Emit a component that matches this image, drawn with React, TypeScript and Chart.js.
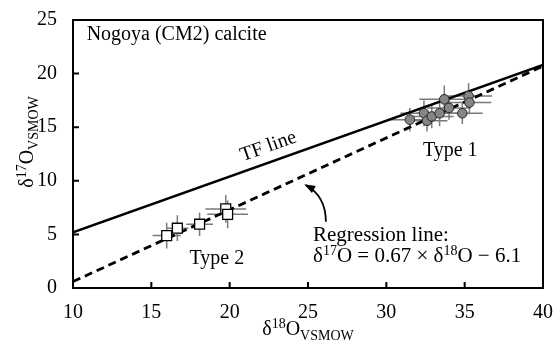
import React, { useEffect, useRef } from 'react';
import { Chart, registerables } from 'chart.js';

Chart.register(...registerables);

// ---------- data ----------
const xTickValues = [10, 15, 20, 25, 30, 35, 40];
const yTickValues = [0, 5, 10, 15, 20, 25];

// Type 1 (grey circles)
const type1X = [31.5, 32.4, 32.6, 32.9, 33.4, 33.7, 34.0, 34.85, 35.25, 35.3];
const type1Y = [15.7, 16.3, 15.6, 16.0, 16.3, 17.6, 16.8, 16.3, 17.9, 17.3];
const type1XErr = [1.4, 1.5, 1.3, 1.4, 1.5, 1.6, 1.4, 1.3, 1.5, 1.4];
const type1YErr = [1.1, 1.2, 1.0, 1.1, 1.2, 1.3, 1.1, 1.0, 1.2, 1.1];

// Type 2 (open squares)
const type2X = [15.98, 16.66, 18.08, 19.75, 19.87];
const type2Y = [4.89, 5.58, 5.95, 7.38, 6.87];
const type2XErr = [0.9, 0.7, 0.85, 1.3, 1.3];
const type2YErr = [1.2, 1.2, 1.1, 1.3, 1.3];

// Lines
const tfLineX = [10, 40];
const tfLineY = [5.2, 20.8];
const regLineX = [10, 40];
const regLineY = [0.6, 20.7];

// ---------- styling / layout ----------
const FONT = '"Liberation Serif", "Times New Roman", Times, serif';
const FS = 20;

type Seg = { t: string; sup?: boolean; sub?: boolean };

function drawRich(ctx: CanvasRenderingContext2D, segs: Seg[], x: number, y: number, align: 'left' | 'center', size: number) {
  const small = Math.round(size * 0.68);
  const widths: number[] = [];
  let total = 0;
  for (const s of segs) {
    ctx.font = `${s.sup || s.sub ? small : size}px ${FONT}`;
    const w = ctx.measureText(s.t).width;
    widths.push(w);
    total += w;
  }
  let cx = align === 'center' ? x - total / 2 : x;
  ctx.textAlign = 'left';
  ctx.textBaseline = 'alphabetic';
  segs.forEach((s, i) => {
    ctx.font = `${s.sup || s.sub ? small : size}px ${FONT}`;
    const dy = s.sup ? -size * 0.36 : s.sub ? size * 0.24 : 0;
    ctx.fillText(s.t, cx, y + dy);
    cx += widths[i];
  });
}

const overlayPlugin = {
  id: 'overlay',
  beforeDatasetsDraw(chart: any) {
    const { ctx, scales } = chart;
    const xs = scales.x, ys = scales.y;
    ctx.save();
    ctx.strokeStyle = '#7a7a7a';
    ctx.lineWidth = 1.5;
    const bars = (X: number[], Y: number[], XE: number[], YE: number[]) => {
      for (let i = 0; i < X.length; i++) {
        const px = xs.getPixelForValue(X[i]);
        const py = ys.getPixelForValue(Y[i]);
        ctx.beginPath();
        ctx.moveTo(xs.getPixelForValue(X[i] - XE[i]), py);
        ctx.lineTo(xs.getPixelForValue(X[i] + XE[i]), py);
        ctx.moveTo(px, ys.getPixelForValue(Y[i] - YE[i]));
        ctx.lineTo(px, ys.getPixelForValue(Y[i] + YE[i]));
        ctx.stroke();
      }
    };
    bars(type1X, type1Y, type1XErr, type1YErr);
    bars(type2X, type2Y, type2XErr, type2YErr);
    ctx.restore();
  },
  afterDraw(chart: any) {
    const { ctx, scales, chartArea } = chart;
    const xs = scales.x, ys = scales.y;
    const X = (v: number) => xs.getPixelForValue(v);
    const Y = (v: number) => ys.getPixelForValue(v);
    ctx.save();
    // frame
    ctx.strokeStyle = '#000';
    ctx.lineWidth = 2;
    ctx.strokeRect(chartArea.left, chartArea.top, chartArea.right - chartArea.left, chartArea.bottom - chartArea.top);
    // inward ticks
    ctx.beginPath();
    for (const v of xTickValues) {
      ctx.moveTo(X(v), chartArea.bottom);
      ctx.lineTo(X(v), chartArea.bottom - 6);
    }
    for (const v of yTickValues) {
      ctx.moveTo(chartArea.left, Y(v));
      ctx.lineTo(chartArea.left + 6, Y(v));
    }
    ctx.stroke();

    ctx.fillStyle = '#000';
    drawRich(ctx, [{ t: 'Nogoya (CM2) calcite' }], X(10.87), Y(23.15), 'left', FS);
    drawRich(ctx, [{ t: 'Type 1' }], X(34.08), Y(12.27), 'center', FS);
    drawRich(ctx, [{ t: 'Type 2' }], X(19.18), Y(2.21), 'center', FS);
    drawRich(ctx, [{ t: 'Regression line:' }], X(25.32), Y(4.34), 'left', 21);
    drawRich(ctx, [
      { t: 'δ' }, { t: '17', sup: true }, { t: 'O = 0.67 × δ' }, { t: '18', sup: true }, { t: 'O − 6.1' },
    ], X(25.32), Y(2.4), 'left', 21);

    // TF line label, rotated along the line
    const ang = Math.atan2(Y(tfLineY[1]) - Y(tfLineY[0]), X(tfLineX[1]) - X(tfLineX[0]));
    ctx.save();
    ctx.translate(X(22.47), Y(13.19));
    ctx.rotate(ang);
    ctx.font = `${FS}px ${FONT}`;
    ctx.textAlign = 'center';
    ctx.textBaseline = 'middle';
    ctx.fillText('TF line', 0, 0);
    ctx.restore();

    // curved arrow
    const sx = X(26.14), sy = Y(6.18);
    const cpx = X(26.14), cpy = Y(8.58);
    const tx = X(24.87), ty = Y(9.59);
    ctx.lineWidth = 1.8;
    ctx.beginPath();
    ctx.moveTo(sx, sy);
    ctx.quadraticCurveTo(cpx, cpy, tx, ty);
    ctx.stroke();
    const a = Math.atan2(ty - cpy, tx - cpx);
    const hl = 9, hw = 4;
    ctx.beginPath();
    ctx.moveTo(tx + Math.cos(a) * 2, ty + Math.sin(a) * 2);
    ctx.lineTo(tx - Math.cos(a) * hl - Math.sin(a) * hw, ty - Math.sin(a) * hl + Math.cos(a) * hw);
    ctx.lineTo(tx - Math.cos(a) * hl + Math.sin(a) * hw, ty - Math.sin(a) * hl - Math.cos(a) * hw);
    ctx.closePath();
    ctx.fill();

    // axis titles
    drawRich(ctx, [{ t: 'δ' }, { t: '18', sup: true }, { t: 'O' }, { t: 'VSMOW', sub: true }],
      (chartArea.left + chartArea.right) / 2, chartArea.bottom + 47, 'center', FS);
    ctx.save();
    ctx.translate(chartArea.left - 40, chartArea.top + 122);
    ctx.rotate(-Math.PI / 2);
    drawRich(ctx, [{ t: 'δ' }, { t: '17', sup: true }, { t: 'O' }, { t: 'VSMOW', sub: true }], 0, 0, 'center', FS);
    ctx.restore();

    ctx.restore();
  },
};

export default function App() {
  const ref = useRef<HTMLCanvasElement | null>(null);
  useEffect(() => {
    document.body.style.margin = '0';
    const canvas = ref.current!;
    const chart = new Chart(canvas, {
      type: 'scatter',
      data: {
        datasets: [
          {
            label: 'Type 1',
            data: type1X.map((x, i) => ({ x, y: type1Y[i] })),
            pointStyle: 'circle',
            pointRadius: 4.8,
            backgroundColor: '#858585',
            borderColor: '#262626',
            borderWidth: 1,
            order: 0,
          },
          {
            label: 'Type 2',
            data: type2X.map((x, i) => ({ x, y: type2Y[i] })),
            pointStyle: 'rect',
            pointRadius: 7,
            backgroundColor: '#ffffff',
            borderColor: '#000000',
            borderWidth: 1.3,
            order: 0,
          },
          {
            label: 'TF line',
            data: tfLineX.map((x, i) => ({ x, y: tfLineY[i] })),
            showLine: true,
            borderColor: '#000',
            borderWidth: 2.5,
            pointRadius: 0,
            order: 1,
          },
          {
            label: 'Regression line',
            data: regLineX.map((x, i) => ({ x, y: regLineY[i] })),
            showLine: true,
            borderColor: '#000',
            borderWidth: 2.8,
            borderDash: [8, 5],
            pointRadius: 0,
            order: 1,
          },
        ],
      },
      options: {
        animation: false,
        responsive: false,
        devicePixelRatio: 1,
        layout: { padding: { top: 17, right: 11, left: 0, bottom: 0 } },
        plugins: { legend: { display: false }, tooltip: { enabled: false } },
        scales: {
          x: {
            type: 'linear',
            min: 10,
            max: 40,
            afterFit: (s: any) => { s.height = 54; },
            afterBuildTicks: (s: any) => { s.ticks = xTickValues.map((v) => ({ value: v })); },
            grid: { display: false },
            border: { display: false },
            ticks: { padding: 5, color: '#000', font: { family: FONT, size: FS } },
          },
          y: {
            type: 'linear',
            min: 0,
            max: 25,
            afterFit: (s: any) => { s.width = 73; },
            afterBuildTicks: (s: any) => { s.ticks = yTickValues.map((v) => ({ value: v })); },
            grid: { display: false },
            border: { display: false },
            ticks: { padding: 8, color: '#000', font: { family: FONT, size: FS } },
          },
        },
      },
      plugins: [overlayPlugin],
    });
    return () => chart.destroy();
  }, []);
  return (
    <div style={{ position: 'absolute', left: 0, top: 0, width: 558, height: 342 }}>
      <canvas ref={ref} width={558} height={342} style={{ width: 558, height: 342, display: 'block' }} />
    </div>
  );
}
